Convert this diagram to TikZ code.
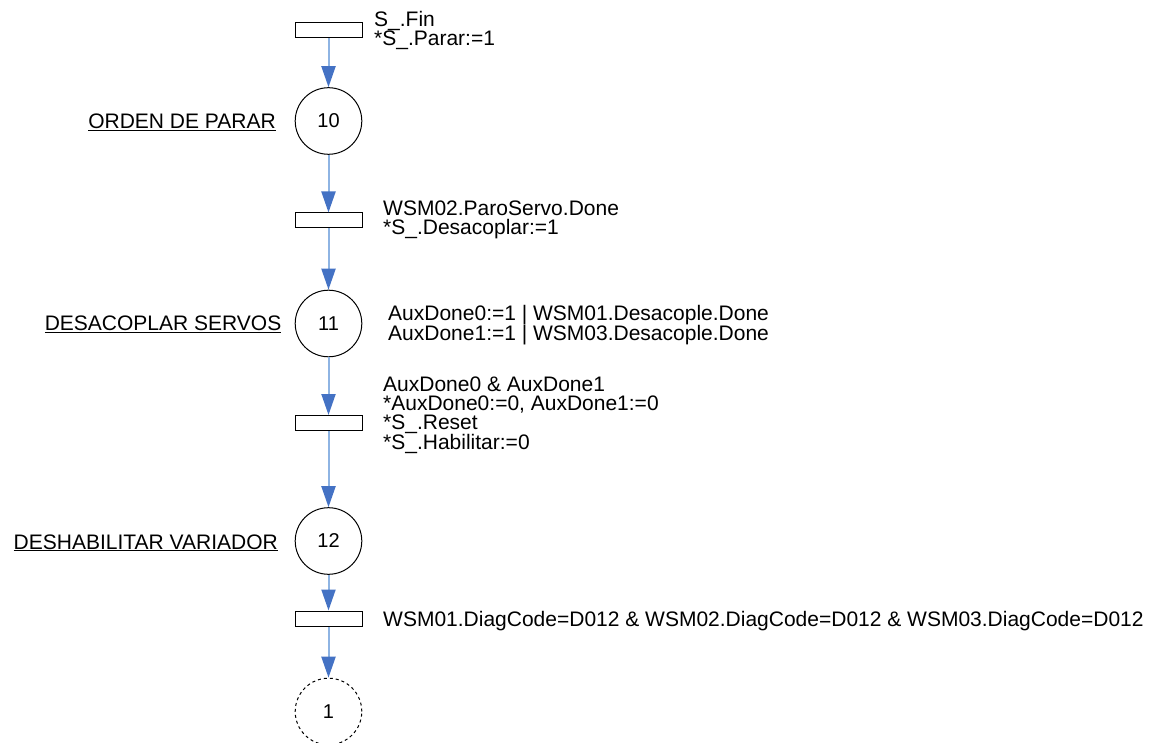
\documentclass[tikz,border=0pt]{standalone}
\usepackage{fontspec}
\setmainfont{Liberation Sans}
\usetikzlibrary{arrows.meta}
\definecolor{flowline}{RGB}{142,180,227}
\definecolor{flowhead}{RGB}{68,114,196}
\begin{document}
\begin{tikzpicture}[x=1pt,y=-1pt,
  every node/.style={font=\fontsize{21}{19}\selectfont},
  stepcircle/.style={draw=black,line width=1pt,circle,minimum size=66.6pt,inner sep=0pt,font=\fontsize{20}{20}\selectfont},
  transbar/.style={draw=black,line width=1pt,rectangle,minimum width=67pt,minimum height=15pt,inner sep=0pt},
  flow/.style={draw=flowline,line width=2pt,-{Triangle[length=21pt,width=14pt,color=flowhead,fill=flowhead]}},
  actiontext/.style={anchor=base west,align=left,inner sep=0pt},
  steplabel/.style={anchor=base east,inner sep=0pt}]
\useasboundingbox (0,0) rectangle (1157,743);

% transitions
\node[transbar] (r1) at (328.5,30) {};
\node[transbar] (r2) at (328.5,220.5) {};
\node[transbar] (r3) at (328.5,423) {};
\node[transbar] (r4) at (328.5,618.5) {};

% steps
\node[stepcircle] (c10) at (328.5,121) {10};
\node[stepcircle] (c11) at (328.5,323.5) {11};
\node[stepcircle] (c12) at (328.5,541) {12};
\node[stepcircle,dashed] (c1) at (328.5,711.5) {1};

% flow
\draw[flow] (r1) -- (c10);
\draw[flow] (c10) -- (r2);
\draw[flow] (r2) -- (c11);
\draw[flow] (c11) -- (r3);
\draw[flow] (r3) -- (c12);
\draw[flow] (c12) -- (r4);
\draw[flow] (r4) -- (c1);

% step names
\node[steplabel] (l10) at (276,128.3) {\underline{ORDEN DE PARAR}};
\node[steplabel] (l11) at (281.5,331) {\underline{DESACOPLAR SERVOS}};
\node[steplabel] (l12) at (278,549) {\underline{DESHABILITAR VARIADOR}};

% conditions and actions (anchored on the baseline of the last line)
\node[actiontext] (a1) at (374,45.5) {S\_.Fin\\*S\_.Parar:=1};
\node[actiontext] (a2) at (383,235) {WSM02.ParoServo.Done\\*S\_.Desacoplar:=1};
\node[actiontext] (a11) at (388,340.7) {AuxDone0:=1 | WSM01.Desacople.Done\\AuxDone1:=1 | WSM03.Desacople.Done};
\node[actiontext] (a3) at (383,449.7) {AuxDone0 \& AuxDone1\\*AuxDone0:=0, AuxDone1:=0\\*S\_.Reset\\*S\_.Habilitar:=0};
\node[actiontext] (a4) at (383,626) {WSM01.DiagCode=D012 \& WSM02.DiagCode=D012 \& WSM03.DiagCode=D012};
\end{tikzpicture}
\end{document}
